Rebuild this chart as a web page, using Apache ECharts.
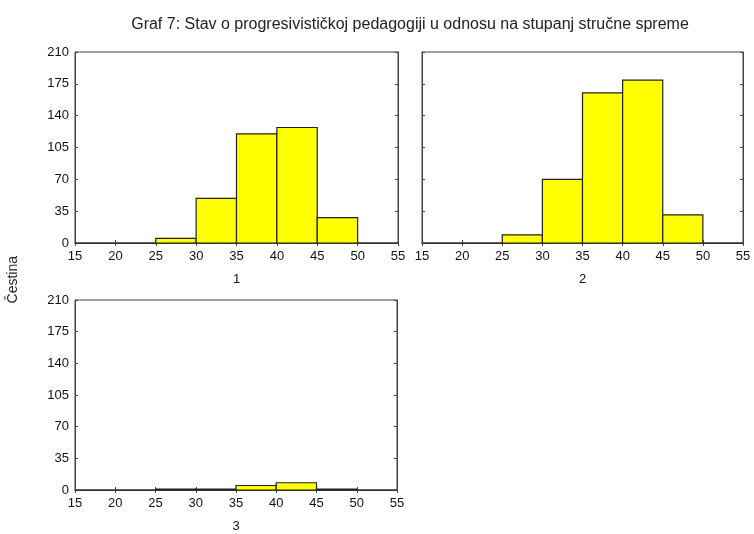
<!DOCTYPE html>
<html><head><meta charset="utf-8">
<script src="https://cdn.jsdelivr.net/npm/echarts@6/dist/echarts.min.js"></script>
<style>html,body{margin:0;padding:0;background:#fff}#c{width:754px;height:534px}</style>
</head><body><div id="c"></div>
<script>
const binStarts = [15, 20, 25, 30, 35, 40, 45, 50];
const binWidth = 5;
const counts1 = [0, 0, 5, 49, 120, 127, 28, 0];
const counts2 = [0, 0, 9, 70, 165, 179, 31, 0];
const counts3 = [0, 0, 1, 1, 5, 8, 1, 0];
const panelNames = ['1', '2', '3'];
const yTicks = [0, 35, 70, 105, 140, 175, 210];
const xTicks = [15, 20, 25, 30, 35, 40, 45, 50, 55];

const font = 'Liberation Sans, Arial, sans-serif';
const chart = echarts.init(document.getElementById('c'));
const grids = [
  {left: 75, top: 52, width: 323, height: 191},
  {left: 422, top: 52, width: 321, height: 191},
  {left: 75, top: 300, width: 322, height: 191}
];
function mk(counts){ return binStarts.map((s,i)=>[s, s+binWidth, counts[i]]); }
const allCounts = [counts1, counts2, counts3];
const tickStyle = {show: true, inside: true, length: 3, lineStyle: {color: '#444'}};
const xAxes = [], yAxes = [];
grids.forEach((g, i) => {
  xAxes.push({
    gridIndex: i, type: 'value', min: xTicks[0], max: xTicks[xTicks.length-1], interval: 5, position: 'bottom',
    name: panelNames[i], nameLocation: 'middle', nameGap: 30,
    nameTextStyle: {fontFamily: font, fontSize: 13, color: '#111'},
    axisLine: {show: true, lineStyle: {color: '#444'}},
    axisTick: tickStyle,
    axisLabel: {fontFamily: font, fontSize: 13, color: '#111', margin: 7},
    splitLine: {show: false}
  });
  yAxes.push({
    gridIndex: i, type: 'value', min: 0, max: yTicks[yTicks.length-1], interval: 35, position: 'left',
    axisLine: {show: true, lineStyle: {color: '#444'}},
    axisTick: tickStyle,
    axisLabel: {show: i !== 1, fontFamily: font, fontSize: 13, color: '#111', margin: 6},
    splitLine: {show: false}
  });
});
grids.forEach((g, i) => {
  xAxes.push({gridIndex: i, type: 'value', min: xTicks[0], max: xTicks[xTicks.length-1], interval: 5, position: 'top',
    axisLine: {show: true, lineStyle: {color: '#444'}}, axisTick: tickStyle, axisLabel: {show: false}, splitLine: {show: false}});
  yAxes.push({gridIndex: i, type: 'value', min: 0, max: yTicks[yTicks.length-1], interval: 35, position: 'right',
    axisLine: {show: true, lineStyle: {color: '#444'}}, axisTick: tickStyle, axisLabel: {show: false}, splitLine: {show: false}});
});
const option = {
  animation: false,
  title: {text: 'Graf 7: Stav o progresivističkoj pedagogiji u odnosu na stupanj stručne spreme', left: 405, top: 12, textAlign: 'center',
    textStyle: {fontFamily: font, fontSize: 16, fontWeight: 'normal', color: '#222'}},
  grid: grids.map(g => Object.assign({show: true, borderColor: '#444', borderWidth: 1, backgroundColor: '#fff'}, g)),
  xAxis: xAxes,
  yAxis: yAxes,
  graphic: [{type: 'text', left: 6, top: 256, rotation: Math.PI/2,
    style: {text: 'Čestina', font: '14px ' + font, fill: '#222'}}],
  series: allCounts.map((c, i) => ({
    type: 'custom', xAxisIndex: i, yAxisIndex: i, data: mk(c),
    renderItem: function(params, api){
      const p0 = api.coord([api.value(0), api.value(2)]);
      const p1 = api.coord([api.value(1), 0]);
      return {type: 'rect', shape: {x: p0[0], y: p0[1], width: p1[0]-p0[0], height: p1[1]-p0[1]},
        style: {fill: '#ffff00', stroke: '#222', lineWidth: 1.2}};
    }
  }))
};
chart.setOption(option);
</script></body></html>
